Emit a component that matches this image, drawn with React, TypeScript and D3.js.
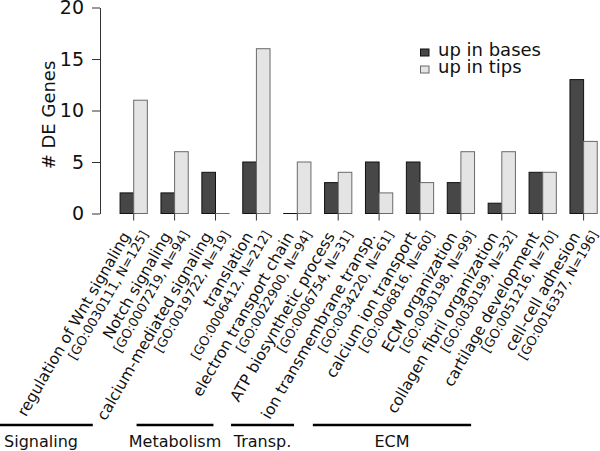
import { useEffect, useRef } from 'react'
import * as d3 from 'd3'

const categories = [
  'regulation of Wnt signaling',
  'Notch signaling',
  'calcium-mediated signaling',
  'translation',
  'electron transport chain',
  'ATP biosynthetic process',
  'ion transmembrane transp.',
  'calcium ion transport',
  'ECM organization',
  'collagen fibril organization',
  'cartilage development',
  'cell-cell adhesion',
]
const goTerms = [
  '[GO:0030111, N=125]',
  '[GO:0007219, N=94]',
  '[GO:0019722, N=19]',
  '[GO:0006412, N=212]',
  '[GO:0022900, N=94]',
  '[GO:0006754, N=31]',
  '[GO:0034220, N=61]',
  '[GO:0006816, N=60]',
  '[GO:0030198, N=99]',
  '[GO:0030199, N=32]',
  '[GO:0051216, N=70]',
  '[GO:0016337, N=196]',
]
const upInBases = [2, 2, 4, 5, 0, 3, 5, 5, 3, 1, 4, 13]
const upInTips = [11, 6, 0, 16, 5, 4, 2, 3, 6, 6, 4, 7]
const seriesNames = ['up in bases', 'up in tips']
const yTicks = [0, 5, 10, 15, 20]
const groupNames = ['Signaling', 'Metabolism', 'Transp.', 'ECM']

// group bracket spans, in tick-step units from the first tick
const GROUP_SPANS = [[-3.53, -1.0], [0.07, 1.95], [2.38, 3.92], [4.38, 8.25]]

const FONT = '"DejaVu Sans", sans-serif'
const COLORS = { fill: ['#474747', '#e4e4e4'], stroke: ['#111', '#6a6a6a'] }

export default function App() {
  const svgRef = useRef<SVGSVGElement>(null)

  useEffect(() => {
    if (!svgRef.current) return
    const svg = d3.select(svgRef.current)
    svg.selectAll('*').remove()

    const idx = categories.map((_, i) => i)
    const x = d3.scaleBand<number>().domain(idx).range([113.25, 604.05])
      .paddingInner(1 / 3).paddingOuter(1 / 6)
    const xs = d3.scaleBand<number>().domain([0, 1]).range([0, x.bandwidth()])
    const y = d3.scaleLinear().domain([0, 20]).range([213.5, 7.5])
    const center = (i: number) => (x(i) as number) + x.bandwidth() / 2

    // Y axis
    svg.append('g').attr('transform', 'translate(100,0)')
      .call(d3.axisLeft(y).tickValues(yTicks).tickSize(8).tickSizeOuter(0).tickPadding(8))
      .call(ax => ax.selectAll('path, line').attr('stroke', '#333'))
      .call(ax => ax.selectAll('text').attr('fill', '#111').attr('font-size', '19px').attr('font-family', FONT))

    svg.append('text')
      .attr('transform', 'translate(55,115) rotate(-90)')
      .attr('text-anchor', 'middle').attr('font-size', '18px').attr('font-family', FONT).attr('fill', '#111')
      .text('# DE Genes')

    // Bars (zero values still get an outline at the baseline)
    const series = [upInBases, upInTips]
    series.forEach((vals, s) => {
      svg.append('g').selectAll('rect')
        .data(vals).enter().append('rect')
        .attr('x', (_, i) => (x(i) as number) + (xs(s) as number))
        .attr('y', d => y(d))
        .attr('width', xs.bandwidth())
        .attr('height', d => Math.max(y(0) - y(d), 0.01))
        .attr('fill', COLORS.fill[s])
        .attr('stroke', COLORS.stroke[s]).attr('stroke-width', 1)
    })

    // X ticks and labels
    idx.forEach(i => {
      const cx = center(i)
      svg.append('line')
        .attr('x1', cx).attr('x2', cx).attr('y1', y(0)).attr('y2', y(0) + 7)
        .attr('stroke', '#333')
      const g = svg.append('g').attr('transform', `translate(${cx - 3},236) rotate(-60)`)
      g.append('text').attr('text-anchor', 'end').attr('font-size', '15.5px').attr('font-family', FONT)
        .attr('fill', '#111').text(categories[i])
      g.append('text').attr('x', 10.7).attr('y', 14.6).attr('text-anchor', 'end')
        .attr('font-size', '13px').attr('font-family', FONT).attr('fill', '#111').text(goTerms[i])
    })

    // Legend
    const lg = svg.append('g')
    seriesNames.forEach((name, s) => {
      const yy = 55.5 + s * 17
      lg.append('rect').attr('x', 420.5).attr('y', yy - 6.5).attr('width', 8.5).attr('height', 7)
        .attr('fill', COLORS.fill[s]).attr('stroke', COLORS.stroke[s])
      lg.append('text').attr('x', 438).attr('y', yy).attr('font-size', '18px')
        .attr('font-family', FONT).attr('fill', '#111').text(name)
    })

    // Group brackets
    const step = x.step()
    groupNames.forEach((name, k) => {
      const x1 = center(0) + GROUP_SPANS[k][0] * step
      const x2 = center(0) + GROUP_SPANS[k][1] * step
      svg.append('line').attr('x1', x1).attr('x2', x2).attr('y1', 425).attr('y2', 425)
        .attr('stroke', '#000').attr('stroke-width', 2.7)
      svg.append('text').attr('x', (x1 + x2) / 2).attr('y', 447).attr('text-anchor', 'middle')
        .attr('font-size', '16px').attr('font-family', FONT).attr('fill', '#111').text(name)
    })
  }, [])

  return (
    <svg ref={svgRef} width={600} height={451}
      style={{ position: 'absolute', left: 0, top: 0, display: 'block', background: '#fff' }} />
  )
}
